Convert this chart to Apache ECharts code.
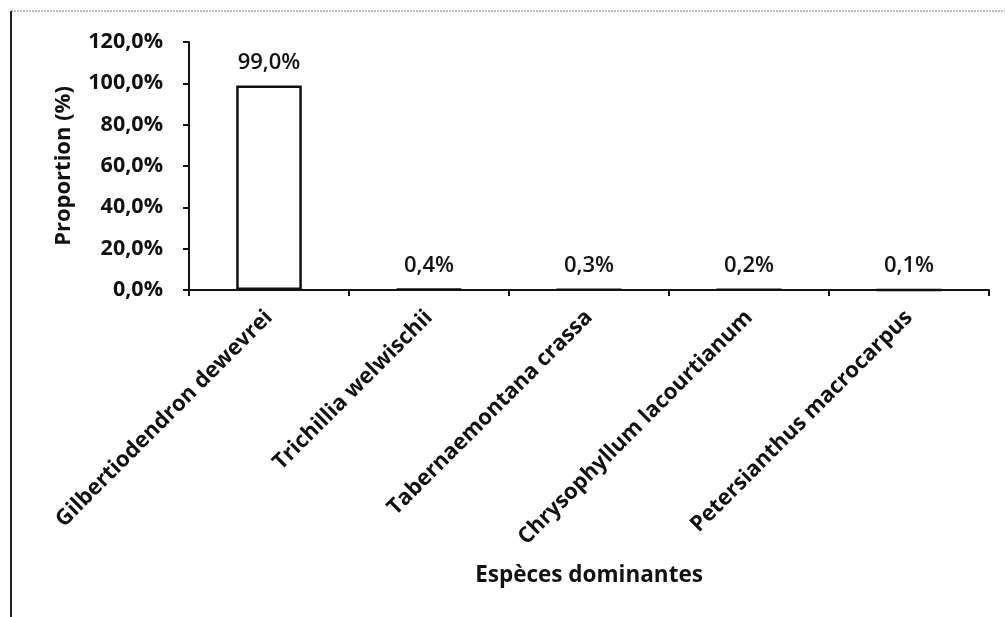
<!DOCTYPE html>
<html>
<head>
<meta charset="utf-8">
<title>Espèces dominantes</title>
<script src="https://cdn.jsdelivr.net/npm/echarts@6/dist/echarts.min.js"></script>
<style>
  html, body { margin: 0; padding: 0; background: #fff; }
  #chart { width: 1005px; height: 617px; }
</style>
</head>
<body>
<div id="chart"></div>
<script>
// Species and their proportion (%) in the stand
const species = [
  'Gilbertiodendron dewevrei',
  'Trichillia welwischii',
  'Tabernaemontana crassa',
  'Chrysophyllum lacourtianum',
  'Petersianthus macrocarpus'
];
const proportions = [99.0, 0.4, 0.3, 0.2, 0.1];
const yTicks = { min: 0, max: 120, step: 20 };

const fmt = v => v.toFixed(1).replace('.', ',') + '%';
const FONT = '"Open Sans", Lato, sans-serif';

const chart = echarts.init(document.getElementById('chart'), null, { renderer: 'canvas' });
chart.setOption({
  backgroundColor: '#ffffff',
  animation: false,
  grid: { left: 189, right: 16, top: 42, bottom: 327, containLabel: false },
  xAxis: {
    type: 'category',
    data: species,
    name: 'Espèces dominantes',
    nameLocation: 'middle',
    nameGap: 274,
    nameTextStyle: { fontFamily: FONT, fontWeight: 'bold', fontSize: 22.5, color: '#111' },
    axisLine: { lineStyle: { color: '#111', width: 2 } },
    axisTick: { show: true, alignWithLabel: false, length: 6, lineStyle: { color: '#111', width: 2 } },
    axisLabel: {
      rotate: 45,
      interval: 0,
      margin: 24,
      fontFamily: FONT, fontWeight: 'bold', fontSize: 22, color: '#111'
    },
    splitLine: { show: false }
  },
  yAxis: {
    type: 'value',
    min: yTicks.min,
    max: yTicks.max,
    interval: yTicks.step,
    name: 'Proportion (%)',
    nameLocation: 'middle',
    nameGap: 114,
    nameRotate: 90,
    nameTextStyle: { fontFamily: FONT, fontWeight: 'bold', fontSize: 22, color: '#111' },
    axisLine: { show: true, lineStyle: { color: '#111', width: 2 } },
    axisTick: { show: true, length: 6, lineStyle: { color: '#111', width: 2 } },
    axisLabel: {
      formatter: v => fmt(v),
      margin: 26,
      fontFamily: FONT, fontWeight: 'bold', fontSize: 21.5, color: '#111'
    },
    splitLine: { show: false }
  },
  series: [{
    type: 'bar',
    data: proportions,
    barWidth: '41%',
    itemStyle: { color: '#ffffff', borderColor: '#111', borderWidth: 2.5 },
    label: {
      show: true,
      position: 'top',
      distance: 12,
      formatter: p => fmt(p.value),
      fontFamily: FONT, fontWeight: 600, fontSize: 22, color: '#111'
    }
  }],
  graphic: [
    { type: 'line', shape: { x1: 11, y1: 11, x2: 1005, y2: 11 }, style: { stroke: '#777', lineWidth: 1, lineDash: [2, 1] }, silent: true },
    { type: 'line', shape: { x1: 11, y1: 11, x2: 11, y2: 617 }, style: { stroke: '#222', lineWidth: 2 }, silent: true }
  ]
});
</script>
</body>
</html>
